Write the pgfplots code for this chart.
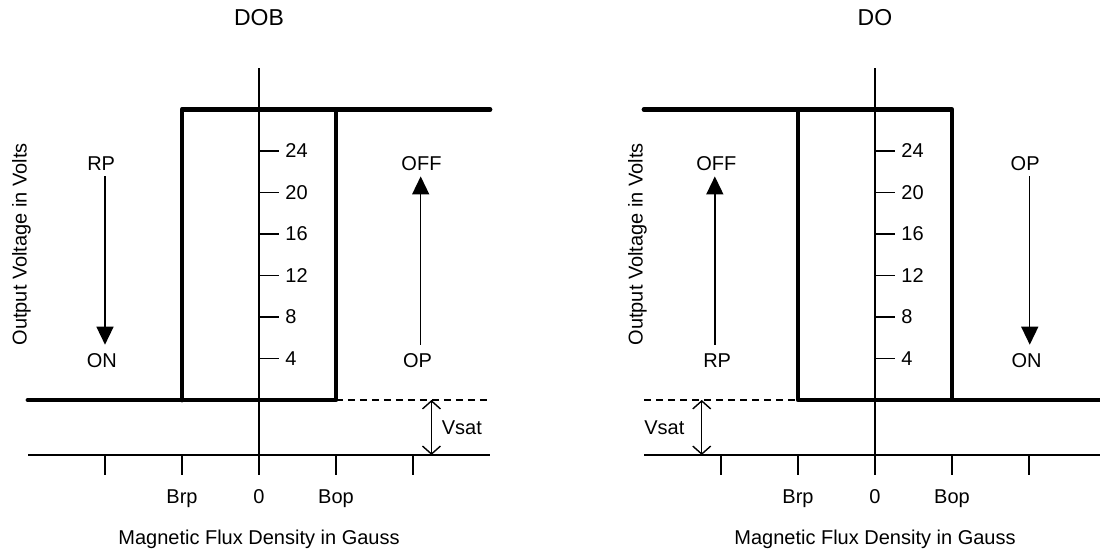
\documentclass[border=0pt]{standalone}
\usepackage{pgfplots}
\pgfplotsset{compat=1.18}
\usepackage{fontspec}
\setmainfont{Liberation Sans}
\usetikzlibrary{arrows.meta}

\pgfplotsset{
  hall/.style={
    scale only axis, width=231pt, height=193.5pt,
    xmin=-3, xmax=3, ymin=-5.3, ymax=32,
    axis x line=bottom, axis y line=middle,
    every inner x axis line/.append style={-},
    every inner y axis line/.append style={-},
    every outer x axis line/.append style={-},
    axis line style={-, line width=0.7pt, black},
    clip=false,
    xtick={-2,-1,0,1,2}, xticklabels={,Brp,0,Bop,},
    ytick={4,8,12,16,20,24},
    minor tick num=0,
    major tick length=10pt,
    xtick align=outside, ytick align=inside,
    tick style={black, line width=0.7pt},
    /pgf/number format/assume math mode=true,
    ticklabel style={font=\fontsize{10}{12}\selectfont},
    yticklabel style={anchor=west, xshift=9.7pt},
    xticklabel style={anchor=base, yshift=-14.5pt},
  },
  thickline/.style={black, line width=2.4pt, line cap=round, line join=round, mark=none},
  dashline/.style={black, line width=0.7pt, dash pattern=on 3.5pt off 2.5pt, mark=none},
  vsatarr/.style={black, line width=0.7pt, mark=none, {Straight Barb[length=4pt,width=9pt]}-{Straight Barb[length=4pt,width=9pt]}},
  trarr/.style={black, line width=0.7pt, mark=none, -{Triangle[length=9pt,width=8.5pt]}},
}

\begin{document}
\begin{tikzpicture}[font=\fontsize{10}{12}\selectfont]
\useasboundingbox (0,0) rectangle (550pt,277.5pt);

% ---------------- DOB ----------------
\begin{axis}[hall, at={(14pt,50pt)}, anchor=south west]
  \addplot[thickline] coordinates {(-3,0) (1,0) (1,28) (3,28)};
  \addplot[thickline] coordinates {(-1,0) (-1,28) (1,28)};
  \addplot[dashline] coordinates {(1,0) (3,0)};
  \addplot[vsatarr] coordinates {(2.24,0) (2.24,-5.3)};
  \addplot[trarr] coordinates {(-2.0,21.55) (-2.0,5.33)};
  \addplot[trarr] coordinates {(2.1,5.33) (2.1,21.55)};
  \node at (axis cs:-2.05,22.8) {RP};
  \node at (axis cs:-2.04,3.75) {ON};
  \node at (axis cs:2.11,22.8) {OFF};
  \node at (axis cs:2.06,3.75) {OP};
  \node[anchor=west, inner sep=0pt] at (axis cs:2.37,-2.68) {Vsat};
  \node[anchor=base, font=\fontsize{11.5}{13}\selectfont] at (axis cs:0,36.06) {DOB};
  \node[anchor=base] at (axis cs:0,-13.96) {Magnetic Flux Density in Gauss};
  \node[anchor=base, rotate=90] at (axis cs:-3.017,15.01) {Output Voltage in Volts};
\end{axis}

% ---------------- DO ----------------
\begin{axis}[hall, at={(322pt,50pt)}, anchor=south west]
  \addplot[thickline] coordinates {(-3,28) (1,28) (1,0) (3,0)};
  \addplot[thickline] coordinates {(-1,28) (-1,0) (1,0)};
  \addplot[dashline] coordinates {(-3,0) (-1,0)};
  \addplot[vsatarr] coordinates {(-2.25,0) (-2.25,-5.3)};
  \addplot[trarr] coordinates {(-2.08,5.33) (-2.08,21.55)};
  \addplot[trarr] coordinates {(2.01,21.55) (2.01,5.33)};
  \node at (axis cs:-2.06,22.8) {OFF};
  \node at (axis cs:-2.05,3.75) {RP};
  \node at (axis cs:1.95,22.8) {OP};
  \node at (axis cs:1.97,3.75) {ON};
  \node[anchor=west, inner sep=0pt] at (axis cs:-3.0,-2.68) {Vsat};
  \node[anchor=base, font=\fontsize{11.5}{13}\selectfont] at (axis cs:0,36.06) {DO};
  \node[anchor=base] at (axis cs:0,-13.96) {Magnetic Flux Density in Gauss};
  \node[anchor=base, rotate=90] at (axis cs:-3.017,15.01) {Output Voltage in Volts};
\end{axis}
\end{tikzpicture}
\end{document}
